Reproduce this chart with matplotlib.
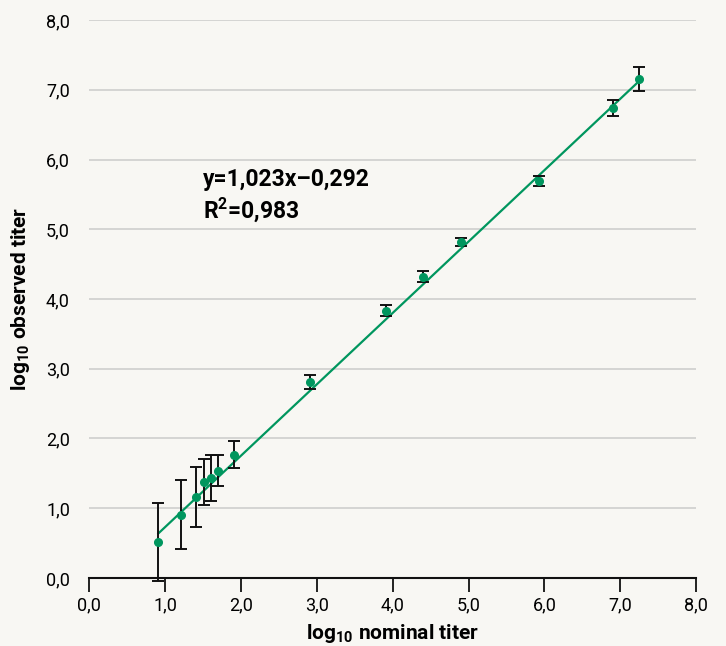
import matplotlib

matplotlib.use("Agg")
import matplotlib.pyplot as plt
import numpy as np

# nominal vs observed titer (log10)
nominal = [0.91, 1.21, 1.40, 1.51, 1.61, 1.69, 1.91, 2.91, 3.91, 4.40, 4.90, 5.93, 6.90, 7.25]
observed = [0.52, 0.91, 1.16, 1.37, 1.44, 1.54, 1.77, 2.81, 3.83, 4.32, 4.82, 5.69, 6.74, 7.15]
error = [0.56, 0.49, 0.43, 0.33, 0.33, 0.22, 0.19, 0.10, 0.08, 0.08, 0.06, 0.07, 0.12, 0.17]

slope, intercept = 1.023, -0.292
r_squared = 0.983

ticks = np.arange(0, 9, 1)

GREEN = "#00965e"
BG = "#f8f7f3"

plt.rcParams["font.family"] = ["Roboto", "DejaVu Sans"]
plt.rcParams["mathtext.fontset"] = "custom"
plt.rcParams["mathtext.rm"] = "Roboto"
plt.rcParams["mathtext.bf"] = "Roboto:bold"

fig = plt.figure(figsize=(7.26, 6.46), dpi=100, facecolor=BG)
ax = fig.add_axes([0.1231, 0.1053, 0.8356, 0.8637], facecolor=BG)

for t in ticks[1:]:
    ax.axhline(t, color="#d2d2d0", lw=1.3, zorder=0)

x_fit = np.array([nominal[0], nominal[-1]])
ax.plot(x_fit, slope * x_fit + intercept, color=GREEN, lw=1.6, zorder=2)

eb = ax.errorbar(nominal, observed, yerr=error, fmt="none", ecolor="#111111",
                 elinewidth=1.4, capsize=4, capthick=1.4, zorder=3)
for part in eb.lines:
    for artist in (part if isinstance(part, tuple) else [part]):
        if artist is not None:
            artist.set_clip_on(False)
ax.plot(nominal, observed, "o", color=GREEN, ms=5.5, zorder=4)

ax.set_xlim(0, 8)
ax.set_ylim(0, 8)
ax.set_xticks(ticks)
ax.set_yticks(ticks)
ax.set_xticklabels([f"{t:.1f}".replace(".", ",") for t in ticks], fontsize=13)
ax.set_yticklabels([f"{t:.1f}".replace(".", ",") for t in ticks], fontsize=13)
ax.tick_params(axis="x", direction="out", length=10, width=1.3, color="#111111", pad=3)
ax.tick_params(axis="y", length=0, pad=14)

for side in ("top", "right", "left"):
    ax.spines[side].set_visible(False)
ax.spines["bottom"].set_linewidth(1.5)
ax.spines["bottom"].set_color("#111111")
ax.spines["bottom"].set_zorder(2.5)

ax.set_xlabel(r"log$_{\mathbf{10}}$ nominal titer", fontsize=15, fontweight="bold", labelpad=6)
ax.set_ylabel(r"log$_{\mathbf{10}}$ observed titer", fontsize=15, fontweight="bold", labelpad=10)

eq = f"y={slope:.3f}x\u2013{abs(intercept):.3f}".replace(".", ",")
ax.text(1.50, 5.71, eq, fontsize=16.5, fontweight="bold", va="center", ha="left")
ax.text(1.50, 5.28, f"R$^{{\\mathbf{{2}}}}$={r_squared:.3f}".replace(".", ","), fontsize=16.5,
        fontweight="bold", va="center", ha="left")

fig.savefig("out.png", dpi=100, facecolor=BG)
